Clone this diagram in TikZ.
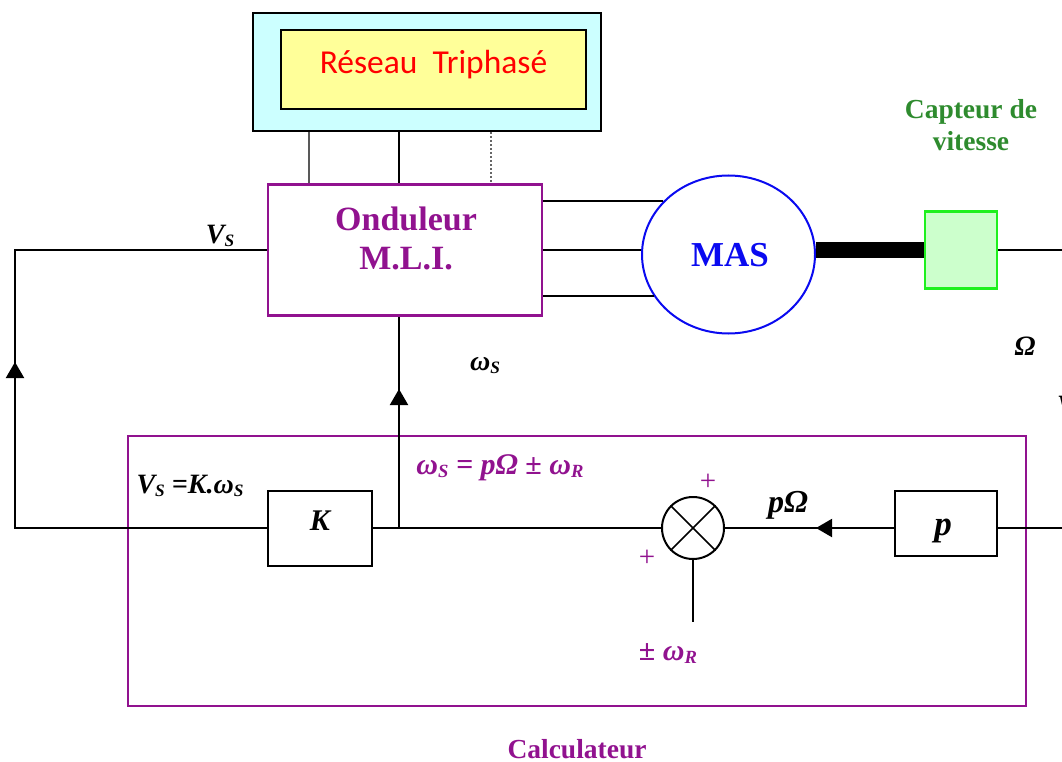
\documentclass[tikz,border=0pt]{standalone}
\usepackage{fontspec}
\setmainfont{Liberation Serif}
\newfontfamily\carlito{Carlito}
\usetikzlibrary{arrows.meta,shapes.geometric}
\definecolor{violet}{HTML}{91128F}
\definecolor{ciel}{HTML}{CCFFFF}
\definecolor{jaune}{HTML}{FFFF99}
\definecolor{vertclair}{HTML}{CCFFCC}
\definecolor{vertvif}{HTML}{1EF01E}
\definecolor{vertfonce}{HTML}{2E8B2E}
\definecolor{bleu}{HTML}{0A0AF0}
\newcommand{\ind}[1]{\raisebox{-3pt}{\scalebox{0.62}{#1}}}
\newcommand{\oms}{\textit{ω}\ind{\textit{S}}}
\newcommand{\omr}{\textit{ω}\ind{\textit{R}}}
\tikzset{
  boite/.style={draw, line width=2pt, inner sep=0pt},
  boiteviolet/.style={draw=violet, line width=2.5pt, inner sep=0pt},
  ligne/.style={line width=2pt},
  fleche/.style={line width=2pt, -{Triangle[length=16pt,width=18pt]}},
  etiq/.style={inner sep=0pt, font=\fontsize{28}{30}\selectfont\bfseries\itshape},
  etiqviolet/.style={etiq, text=violet, font=\fontsize{30}{32}\selectfont\bfseries\itshape},
  signe/.style={inner sep=0pt, text=violet, font=\fontsize{29}{30}\selectfont}
}
\begin{document}
\begin{tikzpicture}[x=1pt, y=-1pt]
  \useasboundingbox (0,0) rectangle (1062,762);
  \node[boite, fill=ciel, minimum width=348pt, minimum height=118pt] (reseauext) at (427,72) {};
  \node[boite, fill=jaune, minimum width=305pt, minimum height=79pt] (reseau) at (433.5,69.5) {};
  \node[inner sep=0pt, text=red, font=\carlito\fontsize{33.5}{36}\selectfont] (reseautxt) at (433.5,65) {Réseau\ \ Triphasé};
  \node[boiteviolet, minimum width=274pt, minimum height=131pt] (onduleur) at (405,250) {};
  \node[inner sep=0pt, text=violet, align=center, font=\fontsize{34}{39}\selectfont\bfseries] (onduleurtxt) at (406,238) {Onduleur\\M.L.I.};
  \node[draw=bleu, ellipse, line width=2pt, fill=white, minimum width=173pt, minimum height=158pt, inner sep=0pt] (mas) at (728.5,254.5) {};
  \node[inner sep=0pt, text=bleu, font=\fontsize{35}{38}\selectfont\bfseries] (mastxt) at (730,255) {MAS};
  \node[draw=vertvif, fill=vertclair, line width=2.5pt, minimum width=72pt, minimum height=77pt, inner sep=0pt] (capteur) at (961,250) {};
  \node[inner sep=0pt, text=vertfonce, align=center, font=\fontsize{27.5}{32}\selectfont\bfseries] (capteurtxt) at (971,125) {Capteur de\\vitesse};
  \node[boite, minimum width=104pt, minimum height=75pt] (gain) at (320,528) {};
  \node[inner sep=0pt, font=\fontsize{30}{32}\selectfont\bfseries\itshape] (gaintxt) at (320,521) {K};
  \node[boite, minimum width=102pt, minimum height=65pt] (pole) at (946,523.5) {};
  \node[inner sep=0pt, font=\fontsize{35}{38}\selectfont\bfseries\itshape] (poletxt) at (943,531) {p};
  \node[draw, circle, line width=2pt, minimum size=62pt, inner sep=0pt] (somme) at (693,528) {};
  \node[boiteviolet, minimum width=898pt, minimum height=270pt] (calc) at (577,571) {};
  \coordinate (droite1) at (1062,250);
  \coordinate (droite2) at (1062,528);
  \coordinate (gauche1) at (15,250);
  \coordinate (gauche2) at (15,528);
  \coordinate (base1) at (15,378);
  \coordinate (pointe1) at (15,362);
  \coordinate (base2) at (399,405);
  \coordinate (pointe2) at (399,389);
  \coordinate (base3) at (832,528);
  \coordinate (pointe3) at (816,528);
  \coordinate (noeud) at (399,528);
  \coordinate (basomme) at (693,622);
  \foreach \x/\s in {309/gray!70!black, 399/black} {
    \draw[ligne, color=\s] (\x,0 |- reseauext.south) -- (\x,0 |- onduleur.north);
  }
  \draw[ligne, dotted, gray!80!black] (491,0 |- reseauext.south) -- (491,0 |- onduleur.north);
  \foreach \a in {141,209} {
    \draw[ligne] (onduleur.east |- mas.\a) -- (mas.\a);
  }
  \draw[ligne] (onduleur.east) -- (onduleur.east -| mas.west);
  \draw[line width=16pt] (mas.east |- capteur.west) -- (capteur.west);
  \draw[ligne] (capteur.east) -- (droite1);
  \draw[ligne] (onduleur.west) -- (gauche1) -- (gauche2) -- (gain.west |- noeud);
  \draw[ligne] (gain.east |- noeud) -- (somme.west);
  \draw[ligne] (noeud) -- (onduleur.south -| noeud);
  \draw[ligne] (droite2) -- (pole.east |- droite2);
  \draw[ligne] (pole.west |- droite2) -- (somme.east);
  \draw[ligne] (somme.south) -- (basomme);
  \draw[fleche] (base1) -- (pointe1);
  \draw[fleche] (base2) -- (pointe2);
  \draw[fleche] (base3) -- (pointe3);
  \draw[line width=1.5pt] (somme.45) -- (somme.225);
  \draw[line width=1.5pt] (somme.135) -- (somme.315);
  \node[etiq] (vs) at (220,236) {\textit{V}\ind{\textit{S}}};
  \node[etiq] (omegas) at (485,366) {\oms};
  \node[etiq] (omega) at (1025,346) {Ω};
  \node[etiq, anchor=west] (vcoupe) at (1057,406) {V};
  \node[etiq] (loivs) at (190,486) {\textit{V}\ind{\textit{S}} =\textit{K}.\oms};
  \node[etiqviolet] (loiomega) at (500,468) {\oms{} = \textit{p}Ω ± \omr};
  \node[etiq, font=\fontsize{32}{34}\selectfont\bfseries\itshape] (pomega) at (788,505) {\textit{p}Ω};
  \node[signe] (plushaut) at (708,482) {+};
  \node[signe] (plusbas) at (647,558) {+};
  \node[etiqviolet] (omegar) at (668,654) {± \omr};
  \node[inner sep=0pt, text=violet, font=\fontsize{27.5}{30}\selectfont\bfseries] (calctxt) at (577,749) {Calculateur};
\end{tikzpicture}
\end{document}
